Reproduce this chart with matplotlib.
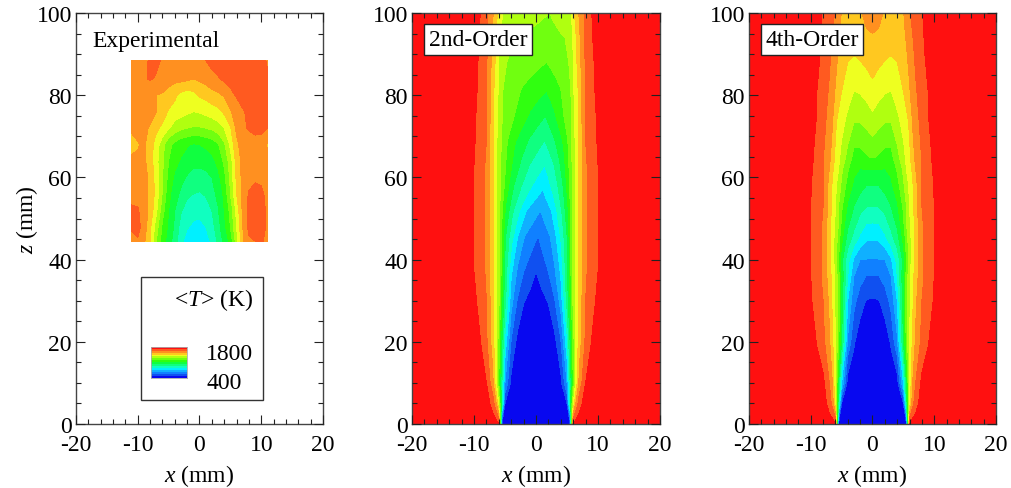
import numpy as np
import matplotlib
matplotlib.use('Agg')
import matplotlib.pyplot as plt
from matplotlib.colors import ListedColormap, BoundaryNorm
from matplotlib.ticker import MultipleLocator
from matplotlib.patches import Rectangle

plt.rcParams['font.family'] = ['Liberation Serif', 'DejaVu Serif']
plt.rcParams['mathtext.fontset'] = 'custom'
plt.rcParams['mathtext.it'] = 'Liberation Serif:italic'
plt.rcParams['mathtext.rm'] = 'Liberation Serif'
plt.rcParams['axes.unicode_minus'] = False

LEVELS = list(range(400, 2001, 100))
BAND_COLORS = ['#0808f0', '#1050f0', '#1080ff', '#10b0ff', '#00f0ff', '#10ffc0', '#10ff80', '#10ff40',
               '#30ff10', '#70ff10', '#b0ff10', '#eeff20', '#ffc820', '#ff9020', '#ff5a20', '#ff1010']

# Experimental temperature (K): rows z, columns x
exp_x = list(range(-11, 12))
exp_z = [44.5, 48, 52, 56, 60, 64, 68, 72, 76, 80, 84, 88.5]
exp_T = [
 [1780,1790,1720,1600,1400,1250,1150,1050,920,860,840,830,850,920,1020,1130,1230,1450,1680,1780,1800,1810,1780],
 [1810,1830,1760,1620,1450,1280,1180,1080,960,910,880,870,900,960,1060,1170,1300,1500,1700,1830,1860,1850,1780],
 [1820,1810,1750,1670,1520,1340,1200,1100,1010,960,940,930,950,1000,1090,1200,1330,1530,1720,1830,1860,1840,1780],
 [1760,1760,1730,1680,1560,1390,1230,1140,1080,1020,1000,990,1010,1060,1130,1220,1400,1600,1730,1810,1840,1830,1760],
 [1740,1740,1730,1680,1550,1400,1270,1180,1130,1090,1060,1060,1070,1100,1170,1270,1420,1620,1730,1760,1780,1770,1740],
 [1750,1720,1720,1650,1530,1420,1300,1230,1190,1160,1130,1130,1140,1170,1230,1320,1450,1640,1730,1750,1750,1750,1730],
 [1620,1690,1720,1640,1560,1430,1330,1270,1230,1210,1190,1200,1220,1240,1290,1380,1520,1680,1740,1750,1760,1750,1690],
 [1740,1740,1720,1690,1620,1580,1510,1450,1420,1400,1390,1390,1400,1420,1450,1500,1590,1720,1780,1810,1830,1830,1800],
 [1740,1760,1760,1740,1700,1650,1590,1560,1540,1520,1500,1510,1530,1550,1570,1620,1690,1750,1790,1820,1840,1840,1820],
 [1740,1750,1740,1720,1700,1690,1660,1620,1570,1550,1570,1610,1630,1660,1680,1710,1770,1810,1840,1850,1860,1860,1840],
 [1730,1750,1790,1810,1790,1760,1740,1730,1730,1720,1700,1720,1740,1770,1790,1820,1840,1850,1860,1860,1860,1860,1830],
 [1750,1760,1780,1810,1820,1790,1770,1770,1770,1770,1770,1780,1800,1830,1850,1850,1850,1850,1850,1850,1850,1850,1780],
]

# Half-profile distance from the axis (mm) used by both simulations
half_x = [0, 1, 2, 3, 4, 5, 5.5, 6, 6.5, 7, 8, 9, 10, 11, 20]

# 2nd-order temperature (K)
o2_z = [0, 5, 10, 20, 30, 37, 45, 52, 57, 63, 69, 75, 81, 88, 94, 100]
o2_lean = [0, 0, 0, 0, 0, 0, 0.3, 0.7, 1.1, 1.4, 1.4, 1.5, 1.7, 1.7, 2.0, 2.2]
o2_T = [
 [400,400,400,400,400,420,500,1900,1950,1950,1950,1950,1950,1950,1950],
 [400,400,400,400,430,500,1000,1500,1733,1860,1950,1950,1950,1950,1950],
 [400,400,400,420,470,700,1000,1300,1550,1733,1900,1950,1950,1950,1950],
 [400,400,400,470,590,867,1100,1350,1525,1650,1818,1905,1950,1950,1950],
 [440,470,508,592,740,1033,1200,1425,1540,1633,1800,1862,1925,1950,1950],
 [500,550,600,683,815,1067,1250,1440,1533,1617,1783,1853,1900,1950,1950],
 [590,640,685,778,917,1100,1267,1440,1533,1617,1783,1853,1900,1950,1950],
 [700,750,800,900,1014,1180,1300,1440,1533,1617,1783,1853,1900,1950,1950],
 [800,855,915,992,1090,1240,1340,1440,1533,1617,1783,1853,1900,1950,1950],
 [900,950,1000,1077,1164,1286,1357,1440,1533,1617,1783,1853,1900,1950,1950],
 [1000,1045,1090,1150,1218,1312,1375,1450,1533,1617,1800,1856,1910,1950,1950],
 [1100,1143,1186,1247,1300,1362,1394,1467,1550,1633,1800,1865,1915,1950,1950],
 [1200,1230,1260,1288,1329,1376,1400,1483,1557,1630,1815,1875,1925,1950,1950],
 [1300,1320,1340,1360,1380,1400,1450,1500,1583,1667,1813,1880,1935,1950,1950],
 [1350,1362,1375,1388,1400,1453,1479,1505,1600,1683,1821,1893,1940,1950,1950],
 [1400,1418,1436,1454,1471,1489,1498,1567,1643,1714,1829,1900,1950,1950,1950],
]

# 4th-order temperature (K)
o4_z = [0, 5, 10, 20, 30, 36, 40, 45, 49, 53, 58, 62, 65, 68, 74, 81, 90, 95, 100]
o4_T = [
 [400,400,400,400,400,420,480,1900,1950,1950,1950,1950,1950,1950,1950],
 [400,400,400,400,430,500,1000,1530,1767,1857,1950,1950,1950,1950,1950],
 [400,400,400,420,450,800,1100,1500,1700,1800,1925,1950,1950,1950,1950],
 [400,400,430,515,680,1100,1333,1500,1620,1715,1827,1893,1950,1950,1950],
 [490,495,550,630,800,1150,1333,1475,1580,1680,1800,1855,1910,1950,1950],
 [595,598,637,700,900,1167,1333,1475,1567,1650,1778,1845,1900,1950,1950],
 [695,697,700,783,933,1133,1300,1450,1543,1625,1778,1845,1900,1950,1950],
 [805,810,870,955,1056,1225,1350,1460,1543,1625,1788,1848,1900,1950,1950],
 [902,905,960,1038,1125,1280,1400,1483,1557,1640,1788,1848,1900,1950,1950],
 [1003,1005,1035,1100,1183,1317,1400,1500,1571,1660,1800,1850,1900,1950,1950],
 [1100,1100,1140,1180,1258,1383,1443,1525,1588,1667,1800,1853,1905,1950,1950],
 [1205,1203,1197,1220,1310,1417,1500,1556,1617,1700,1800,1859,1915,1950,1950],
 [1310,1290,1260,1270,1364,1467,1522,1578,1660,1725,1806,1870,1925,1950,1950],
 [1365,1340,1315,1308,1400,1491,1540,1590,1680,1733,1817,1875,1930,1950,1950],
 [1470,1435,1410,1410,1473,1540,1573,1620,1710,1760,1835,1894,1940,1950,1950],
 [1570,1535,1510,1500,1550,1600,1645,1691,1740,1790,1845,1900,1950,1950,1950],
 [1660,1640,1620,1603,1613,1670,1691,1730,1780,1817,1872,1930,1950,1950,1950],
 [1700,1690,1670,1650,1640,1685,1710,1750,1800,1835,1885,1935,1950,1950,1950],
 [1750,1725,1690,1670,1675,1695,1730,1790,1825,1850,1890,1940,1950,1950,1950],
]

legend_bar_T = list(range(400, 2000, 100))

W, H = 1012, 489
FS = 17
fig = plt.figure(figsize=(W/100, H/100), dpi=100)

def add_ax(x0, x1, y0=14, y1=425):
    return fig.add_axes([x0/W, 1-y1/H, (x1-x0)/W, (y1-y0)/H])

def style(ax):
    ax.set_xlim(-20, 20)
    ax.set_ylim(0, 100)
    ax.xaxis.set_major_locator(MultipleLocator(10))
    ax.xaxis.set_minor_locator(MultipleLocator(2))
    ax.yaxis.set_major_locator(MultipleLocator(20))
    ax.yaxis.set_minor_locator(MultipleLocator(5))
    ax.tick_params(which='both', direction='in', top=True, right=True, width=0.8, color='#222222')
    ax.tick_params(which='major', length=6.5, labelsize=FS)
    ax.tick_params(axis='x', which='major', pad=7.5)
    ax.tick_params(axis='y', which='major', pad=3)
    ax.tick_params(which='minor', length=3.5)
    ax.set_axisbelow(False)
    for s in ax.spines.values():
        s.set_linewidth(1.0)
        s.set_color('#444444')
    ax.set_xlabel(r'$x$ (mm)', fontsize=FS, labelpad=5)

def mirrored(w, table, lean=None, z=None):
    w = np.array(w, float)
    t = np.array(table, float)
    x = np.concatenate([-w[:0:-1], w])
    T = np.hstack([t[:, :0:-1], t])
    X = np.tile(x, (t.shape[0], 1))
    if lean is not None:
        X = X + np.array(lean)[:, None] * np.clip(1 - np.abs(x) / 6.0, 0, None)
    Z = np.tile(np.array(z, float)[:, None], (1, x.size))
    return X, Z, T

ax1 = add_ax(76, 323)
ax1.contourf(exp_x, exp_z, exp_T, levels=LEVELS, colors=BAND_COLORS)
style(ax1)
ax1.set_ylabel(r'$z$ (mm)', fontsize=FS, labelpad=-2.5)
fig.text(92/W, 1-41/H, 'Experimental', fontsize=FS, va='center', ha='left')

ax2 = add_ax(412, 660)
ax2.contourf(*mirrored(half_x, o2_T, o2_lean, o2_z), levels=LEVELS, colors=BAND_COLORS)
style(ax2)

ax3 = add_ax(749, 996)
ax3.contourf(*mirrored(half_x, o4_T, None, o4_z), levels=LEVELS, colors=BAND_COLORS)
style(ax3)

box = dict(boxstyle='square,pad=0.2', fc='white', ec='#222222', lw=1.0)
fig.text(478/W, 1-40.5/H, '2nd-Order', fontsize=FS, va='center', ha='center', bbox=box, zorder=10)
fig.text(812/W, 1-40.5/H, '4th-Order', fontsize=FS, va='center', ha='center', bbox=box, zorder=10)

# legend box
fig.add_artist(Rectangle((140.7/W, 1-401.3/H), 122.6/W, 123/H, transform=fig.transFigure,
                         fc='white', ec='#333333', lw=1.0, zorder=5))
fig.text(253/W, 1-300/H, r'<$T$> (K)', fontsize=FS, ha='right', va='center', zorder=6)
fig.text(253/W, 1-354/H, '1800', fontsize=FS, ha='right', va='center', zorder=6)
fig.text(241.5/W, 1-384/H, '400', fontsize=FS, ha='right', va='center', zorder=6)
cax = fig.add_axes([151/W, 1-379/H, 36.3/W, 31.3/H], zorder=7)
cax.pcolormesh([0, 1], LEVELS, np.array(legend_bar_T)[:, None], cmap=ListedColormap(BAND_COLORS),
               norm=BoundaryNorm(LEVELS, 16))
cax.set_xticks([]); cax.set_yticks([])
for s in cax.spines.values():
    s.set_linewidth(0.6); s.set_color('#aaaaaa')

fig.savefig('out.png', dpi=100)
